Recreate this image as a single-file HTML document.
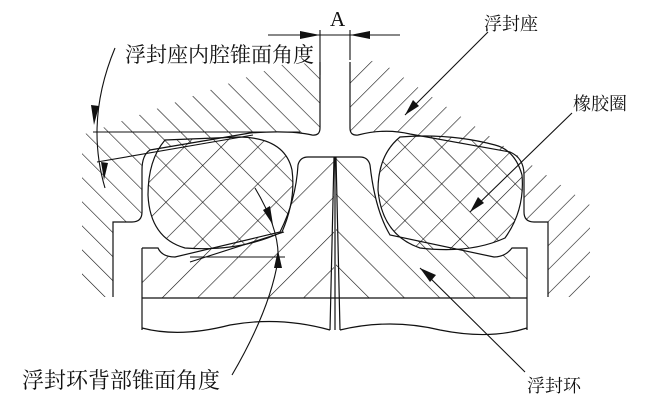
<!DOCTYPE html>
<html><head><meta charset="utf-8"><style>
html,body{margin:0;padding:0;background:#fff;}
svg{display:block;}
text{font-family:"Liberation Serif","Noto Serif CJK SC",serif;fill:#111;}
</style></head><body>
<svg width="664" height="416" viewBox="0 0 664 416" xmlns="http://www.w3.org/2000/svg">
<defs>
<pattern id="hf" width="17" height="17" patternUnits="userSpaceOnUse" patternTransform="rotate(45)">
<line x1="0" y1="0" x2="0" y2="17" stroke="#111" stroke-width="1.2"/></pattern>
<pattern id="hb" width="17" height="17" patternUnits="userSpaceOnUse" patternTransform="rotate(-45)">
<line x1="0" y1="0" x2="0" y2="17" stroke="#111" stroke-width="1.2"/></pattern>
<pattern id="rf" width="25" height="25" patternUnits="userSpaceOnUse" patternTransform="rotate(45)">
<line x1="0" y1="0" x2="0" y2="25" stroke="#111" stroke-width="1.2"/></pattern>
<pattern id="rb" width="25" height="25" patternUnits="userSpaceOnUse" patternTransform="rotate(-45)">
<line x1="0" y1="0" x2="0" y2="25" stroke="#111" stroke-width="1.2"/></pattern>
<pattern id="hr1" width="26" height="26" patternUnits="userSpaceOnUse" patternTransform="rotate(45)">
<line x1="0" y1="0" x2="0" y2="26" stroke="#111" stroke-width="1.2"/></pattern>
<pattern id="hr2" width="26" height="26" patternUnits="userSpaceOnUse" patternTransform="rotate(-45)">
<line x1="0" y1="0" x2="0" y2="26" stroke="#111" stroke-width="1.2"/></pattern>
</defs>
<g fill="none" stroke="#111" stroke-width="1.2">
<path d="M320,65 L320,128 Q320,136 312,135 Q290,130 250,133 L150,150 Q142,155 142,170 L142,212 Q142,222 132,222 L113,222 L113,297 L82,297 L82,135 L290,62 Z" fill="url(#hb)" stroke="none"/>
<path d="M350,65 L350,128 Q350,136 358,135 Q385,128 410,134 L510,152 Q524,158 524,175 L524,212 Q524,222 534,222 L548,222 L548,297 L590,297 L590,205 L378,60 Z" fill="url(#hf)" stroke="none"/>
<path d="M320,62 L320,128 Q320,136 312,135 Q290,130 250,133 L150,150 Q142,155 142,170 L142,212 Q142,222 132,222 L113,222 L113,297"/>
<path d="M350,62 L350,128 Q350,136 358,135 Q385,128 410,134 L510,152 Q524,158 524,175 L524,212 Q524,222 534,222 L548,222 L548,297"/>
<path d="M142,248 L158,248 Q162,257 175,257 L280,232 Q296,200 298,165 Q300,157 308,157 L334,157 L334,298 L142,298 Z" fill="url(#rf)" stroke="none"/>
<path d="M527,248 L512,248 Q505,257 494,257 L390,235 Q375,210 370,165 Q368,157 360,157 L336,157 L336,298 L527,298 Z" fill="url(#rb)" stroke="none"/>
<path d="M142,248 L158,248 Q162,257 175,257 L280,232 Q296,200 298,165 Q300,157 308,157 L360,157 Q368,157 370,165 Q375,210 390,235 L494,257 Q505,257 512,248 L527,248 L527,330"/>
<path d="M142,248 L142,330"/>
<path d="M142,298 L527,298"/>
<path d="M142,328 Q180,338 230,325 Q280,316 330,330"/>
<path d="M340,330 Q390,318 440,330 Q490,340 527,328"/>
<path d="M334,157 L330,330 M336,157 L340,330 M335,157 L335,330"/>
<path d="M165,140 Q148,160 148,195 Q150,238 185,248 Q240,252 282,232 Q296,200 292,170 Q285,138 240,137 Z" fill="url(#hr1)" stroke="none"/>
<path d="M165,140 Q148,160 148,195 Q150,238 185,248 Q240,252 282,232 Q296,200 292,170 Q285,138 240,137 Z" fill="url(#hr2)"/>
<path d="M400,137 Q378,155 378,190 Q382,235 420,248 Q470,254 505,238 Q525,210 522,175 Q515,150 495,145 Q450,133 400,137 Z" fill="url(#hr1)" stroke="none"/>
<path d="M400,137 Q378,155 378,190 Q382,235 420,248 Q470,254 505,238 Q525,210 522,175 Q515,150 495,145 Q450,133 400,137 Z" fill="url(#hr2)"/>
<path d="M268,35 L400,35 M320,30 L320,75 M350,30 L350,60" stroke-width="1.1"/>
<path d="M93,132 L300,132 M97,162 L253,135" stroke-width="1.1"/>
<path d="M115,48 Q85,120 105,188" stroke-width="1.1"/>
<path d="M190,257 L285,257 M190,262 L284,232" stroke-width="1.1"/>
<path d="M255,188 Q280,230 278,260 Q270,310 232,375" stroke-width="1.1"/>
<path d="M488,32 L405,115 M572,113 L470,212 M525,372 L420,268" stroke-width="1.1"/>
</g>
<g fill="#111">
<polygon points="320,35 300,31 300,39"/>
<polygon points="350,35 370,31 370,39"/>
<polygon points="94,125 91,105 99,106"/>
<polygon points="104,180 101,162 108,163"/>
<polygon points="273,225 263,210 270,206"/>
<polygon points="278,250 274,268 282,268"/>
<polygon points="405,115 413,100 419,106"/>
<polygon points="470,212 478,197 484,203"/>
<polygon points="420,268 436,275 430,282"/>
</g>
<text x="330" y="26" font-size="21" font-family="Liberation Sans, sans-serif">A</text>
<text x="125" y="62" font-size="21">浮封座内腔锥面角度</text>
<text x="484" y="30" font-size="18">浮封座</text>
<text x="573" y="110" font-size="18">橡胶圈</text>
<text x="22" y="388" font-size="22">浮封环背部锥面角度</text>
<text x="527" y="392" font-size="18">浮封环</text>
</svg>
</body></html>
